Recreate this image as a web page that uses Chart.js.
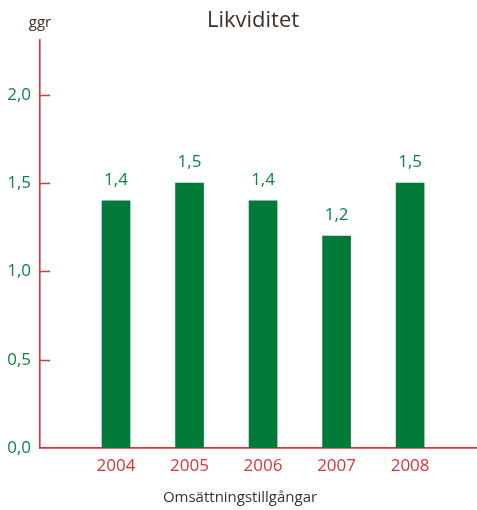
<html lang="sv">
<head>
    <title>Likviditet</title>
    <style>
        body { margin: 0; background: #fff; }
        #wrap { width: 477px; height: 510px; position: relative; }
    </style>
</head>

<body>
    <div id="wrap"><canvas id="likvChart"></canvas></div>

    <script src="https://cdn.jsdelivr.net/npm/chart.js"></script>
    <script>
        // data
        const years = [2004, 2005, 2006, 2007, 2008];
        const values = [1.4, 1.5, 1.4, 1.2, 1.5];
        const yTicks = [0, 0.5, 1.0, 1.5, 2.0];

        const chartTitle = 'Likviditet';
        const unitLabel = 'ggr';
        const xTitle = 'Omsättningstillgångar';

        const GREEN = '#007a38';
        const LABEL_GREEN = '#0f8443';
        const RED = '#d7343a';
        const TEXT = '#3d3029';
        const FONT = '"Open Sans", "Noto Sans", sans-serif';

        function comma(v) {
            return v.toFixed(1).replace('.', ',');
        }

        // title, unit, x-title, value labels and the inward y tick marks
        const extras = {
            id: 'extras',
            afterDatasetsDraw(chart) {
                const ctx = chart.ctx;
                const area = chart.chartArea;
                const y = chart.scales.y;
                ctx.save();

                // inward tick marks on the y axis
                ctx.strokeStyle = RED;
                ctx.lineWidth = 1.5;
                yTicks.forEach(function (t) {
                    if (t === 0) return;
                    const py = Math.round(y.getPixelForValue(t)) + 0.5;
                    ctx.beginPath();
                    ctx.moveTo(area.left, py);
                    ctx.lineTo(area.left + 10, py);
                    ctx.stroke();
                });

                // value labels above bars
                ctx.fillStyle = LABEL_GREEN;
                ctx.font = '17px ' + FONT;
                ctx.textAlign = 'center';
                ctx.textBaseline = 'alphabetic';
                const meta = chart.getDatasetMeta(0);
                meta.data.forEach(function (bar, i) {
                    ctx.fillText(comma(values[i]), bar.x, bar.y - 16);
                });

                // title
                ctx.fillStyle = TEXT;
                ctx.font = '22px ' + FONT;
                ctx.fillText(chartTitle, 253, 27);

                // unit
                ctx.font = '15px ' + FONT;
                ctx.fillText(unitLabel, area.left, 27);

                // x axis title
                ctx.fillText(xTitle, 240, 502);
                ctx.restore();
            }
        };

        const ctx = document.getElementById('likvChart');
        const likvChart = new Chart(ctx, {
            type: 'bar',
            data: {
                datasets: [{
                    data: years.map(function (yr, i) { return {x: yr, y: values[i]}; }),
                    backgroundColor: GREEN,
                    borderWidth: 0,
                    barThickness: 28
                }]
            },
            options: {
                responsive: true,
                maintainAspectRatio: false,
                animation: false,
                layout: { padding: { top: 40, right: 0, left: 0, bottom: 0 } },
                plugins: {
                    legend: { display: false },
                    title: { display: false },
                    tooltip: { enabled: false }
                },
                scales: {
                    x: {
                        type: 'linear',
                        offset: false,
                        min: 2002.966,
                        max: 2008.91,
                        afterBuildTicks: function (scale) {
                            scale.ticks = years.map(function (yr) { return {value: yr}; });
                        },
                        afterFit: function (scale) { scale.height = 62; },
                        grid: { display: false, drawTicks: false, offset: false },
                        border: { display: true, color: RED, width: 1.8 },
                        ticks: {
                            color: RED,
                            padding: 8,
                            font: { family: FONT, size: 17 },
                            maxRotation: 0,
                            callback: function (v) { return String(v); }
                        }
                    },
                    y: {
                        min: 0,
                        max: 2.31,
                        afterFit: function (scale) { scale.width = 40; },
                        grid: { display: false, drawTicks: false },
                        border: { display: true, color: RED, width: 1.6 },
                        ticks: {
                            stepSize: 0.5,
                            includeBounds: false,
                            color: LABEL_GREEN,
                            padding: 9,
                            font: { family: FONT, size: 17 },
                            callback: function (v) { return comma(v); }
                        }
                    }
                }
            },
            plugins: [extras]
        });
    </script>
</body>
</html>
